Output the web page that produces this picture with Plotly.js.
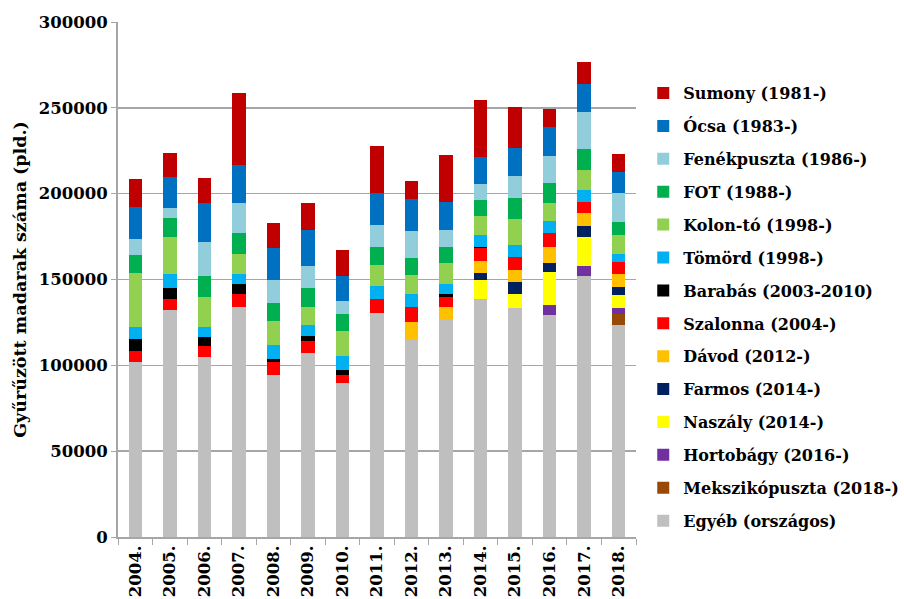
<!DOCTYPE html>
<html>
<head>
<meta charset="utf-8">
<script src="https://cdn.plot.ly/plotly-3.0.1.min.js"></script>
<style>html,body{margin:0;padding:0;background:#fff;}#chart{width:904px;height:599px;}</style>
</head>
<body>
<div id="chart"></div>
<script>
var years = ["2004.","2005.","2006.","2007.","2008.","2009.","2010.","2011.","2012.","2013.","2014.","2015.","2016.","2017.","2018."];
var tickVals = [0,50000,100000,150000,200000,250000,300000];

var egyeb     = [102000,132200,104700,134000,94500,107400,89700,130700,115200,126800,138600,133200,129500,152000,123500];
var mekszikop = [null,null,null,null,null,null,null,null,null,null,null,null,null,null,6600];
var hortobagy = [null,null,null,null,null,null,null,null,null,null,null,null,5500,5650,3300];
var naszaly   = [null,null,null,null,null,null,null,null,null,null,11200,8350,19200,16900,7750];
var farmos    = [null,null,null,null,null,null,null,null,null,null,3900,7150,5600,6600,4300];
var davod     = [null,null,null,null,null,null,null,null,9900,7200,7200,6650,9300,7400,7750];
var szalonna  = [6200,6600,6600,7750,7400,6800,4500,8000,8750,5600,7200,7750,7800,6400,7150];
var barabas   = [7000,6000,5400,5450,1900,2900,3250,null,null,2150,950,null,null,null,null];
var tomord    = [7000,8350,5500,6000,7800,6600,8150,7800,7750,5450,6650,7150,7150,7150,4650];
var kolonto   = [31800,21750,17800,11800,14000,10300,14400,11700,11050,12600,11250,14950,10650,11650,10900];
var fot       = [10300,10700,12200,12200,10700,11200,10100,10700,10100,9300,9500,12400,11650,12400,7600];
var fenek     = [9300,6200,19700,17300,13200,12850,7200,12800,15550,9750,9100,12450,15750,21350,16900];
var ocsa      = [18800,17700,22500,22100,18650,20600,14900,18800,18650,16300,15550,16300,16550,16150,12250];
var sumony    = [16100,14400,14600,41800,14750,15900,14800,27200,10500,27200,33350,23900,10500,13000,10300];

var series = [
  {name:"Egyéb (országos)", y:egyeb, color:"#BFBFBF"},
  {name:"Mekszikópuszta (2018-)", y:mekszikop, color:"#984807"},
  {name:"Hortobágy (2016-)", y:hortobagy, color:"#7030A0"},
  {name:"Naszály (2014-)", y:naszaly, color:"#FFFF00"},
  {name:"Farmos (2014-)", y:farmos, color:"#002060"},
  {name:"Dávod (2012-)", y:davod, color:"#FFC000"},
  {name:"Szalonna (2004-)", y:szalonna, color:"#FF0000"},
  {name:"Barabás (2003-2010)", y:barabas, color:"#000000"},
  {name:"Tömörd (1998-)", y:tomord, color:"#00B0F0"},
  {name:"Kolon-tó (1998-)", y:kolonto, color:"#92D050"},
  {name:"FOT (1988-)", y:fot, color:"#00B050"},
  {name:"Fenékpuszta (1986-)", y:fenek, color:"#92CDDC"},
  {name:"Ócsa (1983-)", y:ocsa, color:"#0070C0"},
  {name:"Sumony (1981-)", y:sumony, color:"#C00000"}
];

var n = series.length;
var traces = series.map(function(s, i){
  return {
    type:"bar", x:years, y:s.y, name:s.name, legendgroup:"g"+i,
    legendrank: n - i,
    marker:{color:s.color, line:{width:0}},
    hoverinfo:"name+y"
  };
});

var FONT = "'DejaVu Serif', serif";

var layout = {
  width:904, height:599,
  barmode:"stack", bargap:0.61,
  paper_bgcolor:"#fff", plot_bgcolor:"#fff",
  margin:{l:118, r:268, t:22, b:62, autoexpand:false},
  font:{family:FONT, size:15, color:"#000", weight:"bold"},
  xaxis:{
    type:"category", tickangle:-90, tickson:"boundaries",
    ticks:"outside", ticklen:6, tickcolor:"#a6a6a6", tickwidth:1,
    showline:true, linecolor:"#a6a6a6", linewidth:2,
    showgrid:false, zeroline:false,
    tickfont:{family:FONT, size:16.5, color:"#000", weight:"bold"}
  },
  yaxis:{
    range:[0,300000], tickvals:tickVals, ticktext:tickVals.map(String),
    ticks:"outside", ticklen:5, tickcolor:"#a6a6a6",
    showline:true, linecolor:"#a6a6a6", linewidth:2,
    showgrid:true, gridcolor:"#a6a6a6", gridwidth:1.5, zeroline:false,
    tickfont:{family:FONT, size:16.5, color:"#000", weight:"bold"},
    title:{text:"Gyűrűzött madarak száma (pld.)", standoff:8,
      font:{family:FONT, size:17.5, color:"#000", weight:"bold"}}
  },
  legend:{
    x:1.014, xanchor:"left", y:0.895, yanchor:"top",
    traceorder:"grouped", tracegroupgap:9.1,
    font:{family:FONT, size:16, color:"#000", weight:"bold"},
    itemclick:false
  },
  showlegend:true
};

Plotly.newPlot("chart", traces, layout, {displayModeBar:false, staticPlot:true});
</script>
</body>
</html>
